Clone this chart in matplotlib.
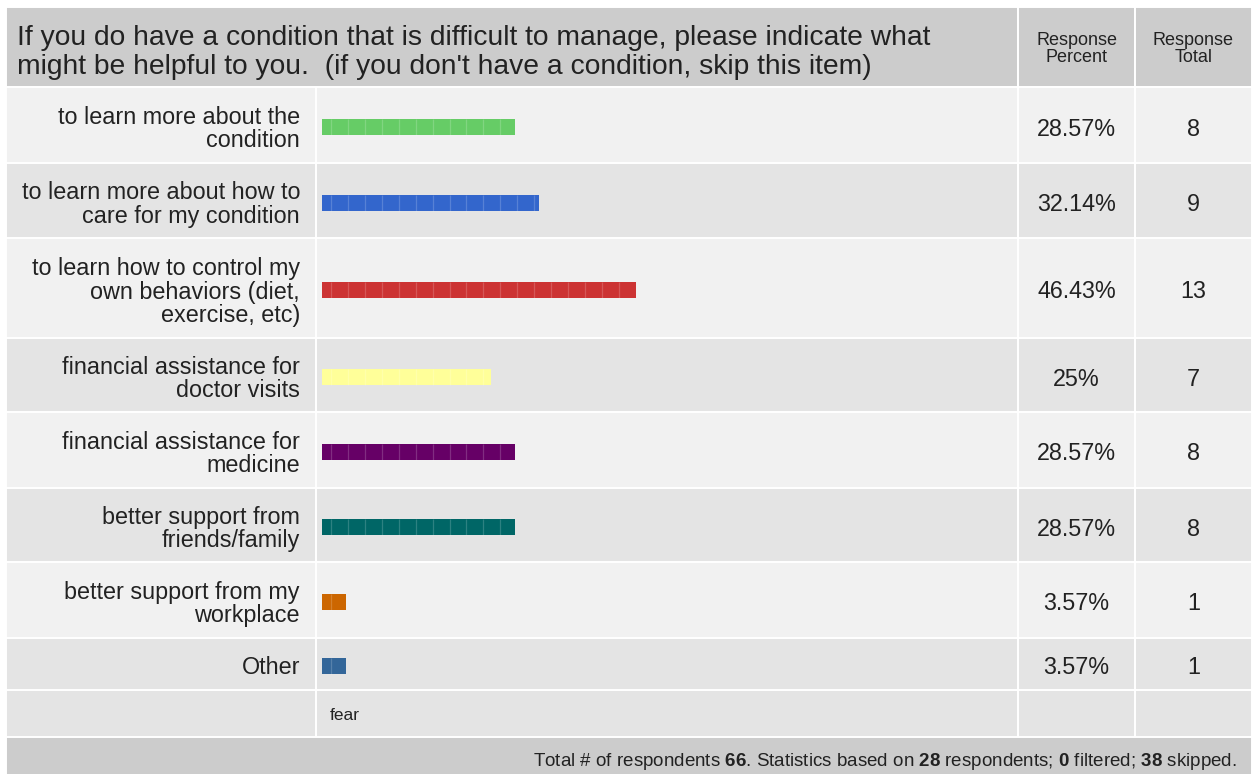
import numpy as np
import matplotlib
matplotlib.use("Agg")
import matplotlib.pyplot as plt
from matplotlib.patches import Rectangle

plt.rcParams["font.family"] = ["Liberation Sans", "DejaVu Sans"]
plt.rcParams["mathtext.fontset"] = "custom"
plt.rcParams["mathtext.rm"] = "Liberation Sans"
plt.rcParams["mathtext.bf"] = "Liberation Sans:bold"

# --- data ---
question = ["If you do have a condition that is difficult to manage, please indicate what",
            "might be helpful to you.  (if you don't have a condition, skip this item)"]
col_heads = ["Response\nPercent", "Response\nTotal"]
labels = ["to learn more about the\ncondition",
          "to learn more about how to\ncare for my condition",
          "to learn how to control my\nown behaviors (diet,\nexercise, etc)",
          "financial assistance for\ndoctor visits",
          "financial assistance for\nmedicine",
          "better support from\nfriends/family",
          "better support from my\nworkplace",
          "Other"]
percents = [28.57, 32.14, 46.43, 25, 28.57, 28.57, 3.57, 3.57]
pct_labels = ["28.57%", "32.14%", "46.43%", "25%", "28.57%", "28.57%", "3.57%", "3.57%"]
totals = [8, 9, 13, 7, 8, 8, 1, 1]
other_texts = ["fear"]
n_total, n_answered, n_filtered, n_skipped = 66, 28, 0, 38

bar_colors = ["#66cc66", "#3366cc", "#cc3333", "#ffff99",
              "#660066", "#006666", "#cc6600", "#336699"]

# --- layout in pixels ---
W, H = 1253, 774
X0, X_BAR, X_PCT, X_TOT, X1 = 6, 316, 1018, 1135, 1252
Y_TOP, Y_HEAD = 7, 87
row_edges = [87, 163, 238, 338, 412, 488, 562, 638, 690, 737]
row_fill = ["#f1f1f1", "#e4e4e4"] * 4 + ["#e4e4e4"]
HEAD_FILL = "#cccccc"
TXT = "#222222"
SEG_START, SEG_STEP = 1.375, 2.5

fig = plt.figure(figsize=(W / 100, H / 100), dpi=100)
bg = fig.add_axes([0, 0, 1, 1])
bg.set_xlim(0, W)
bg.set_ylim(H, 0)
bg.axis("off")

def cell(x0, y0, x1, y1, fc):
    bg.add_patch(Rectangle((x0, y0), x1 - x0, y1 - y0, facecolor=fc,
                           edgecolor="white", linewidth=1.4))

# header
cell(X0, Y_TOP, X_PCT, Y_HEAD, HEAD_FILL)
cell(X_PCT, Y_TOP, X_TOT, Y_HEAD, HEAD_FILL)
cell(X_TOT, Y_TOP, X1, Y_HEAD, HEAD_FILL)
for i, line in enumerate(question):
    bg.text(17, 38 + 29 * i, line, fontsize=20.3, color=TXT, va="center", ha="left")
bg.text((X_PCT + X_TOT) / 2, 49, col_heads[0], fontsize=13, color=TXT,
        ha="center", va="center", linespacing=0.95)
bg.text((X_TOT + X1) / 2, 49, col_heads[1], fontsize=13, color=TXT,
        ha="center", va="center", linespacing=0.95)

# body rows
for r in range(len(row_edges) - 1):
    y0, y1 = row_edges[r], row_edges[r + 1]
    for a, b in [(X0, X_BAR), (X_BAR, X_PCT), (X_PCT, X_TOT), (X_TOT, X1)]:
        cell(a, y0, b, y1, row_fill[r])

centers = [(row_edges[i] + row_edges[i + 1]) / 2 for i in range(len(labels))]
for i, yc in enumerate(centers):
    bg.text(300, yc + 4, labels[i], fontsize=16.8, color=TXT, ha="right",
            va="center", linespacing=1.04)
    bg.text((X_PCT + X_TOT) / 2, yc + 4, pct_labels[i], fontsize=16.8,
            color=TXT, ha="center", va="center")
    bg.text((X_TOT + X1) / 2, yc + 4, str(totals[i]), fontsize=16.8,
            color=TXT, ha="center", va="center")

bg.text(330, (row_edges[-2] + row_edges[-1]) / 2 + 2, other_texts[0],
        fontsize=12.5, color=TXT, ha="left", va="center")

# footer
cell(X0, row_edges[-1], X1, H + 10, HEAD_FILL)
footer = (f"Total # of respondents $\\mathbf{{{n_total}}}$. Statistics based on "
          f"$\\mathbf{{{n_answered}}}$ respondents; $\\mathbf{{{n_filtered}}}$ filtered; "
          f"$\\mathbf{{{n_skipped}}}$ skipped.")
bg.text(1237, 762, footer, fontsize=13.5, color=TXT, ha="right", va="center")

# bars: 0-100 % mapped onto the bar column
ax = fig.add_axes([322 / W, 0, 676 / W, 1])
ax.set_xlim(0, 100)
ax.set_ylim(H, 0)
ax.axis("off")
ax.patch.set_visible(False)
bar_y = [c + 2 for c in centers]
ax.barh(bar_y, percents, height=16, left=0, color=bar_colors, edgecolor="none")
for yc, p in zip(bar_y, percents):
    xs = np.arange(SEG_START, p - 0.5, SEG_STEP)
    ax.vlines(xs, yc - 8, yc + 8, colors="white", alpha=0.18, linewidth=0.9)

fig.savefig("out.png", dpi=100)
